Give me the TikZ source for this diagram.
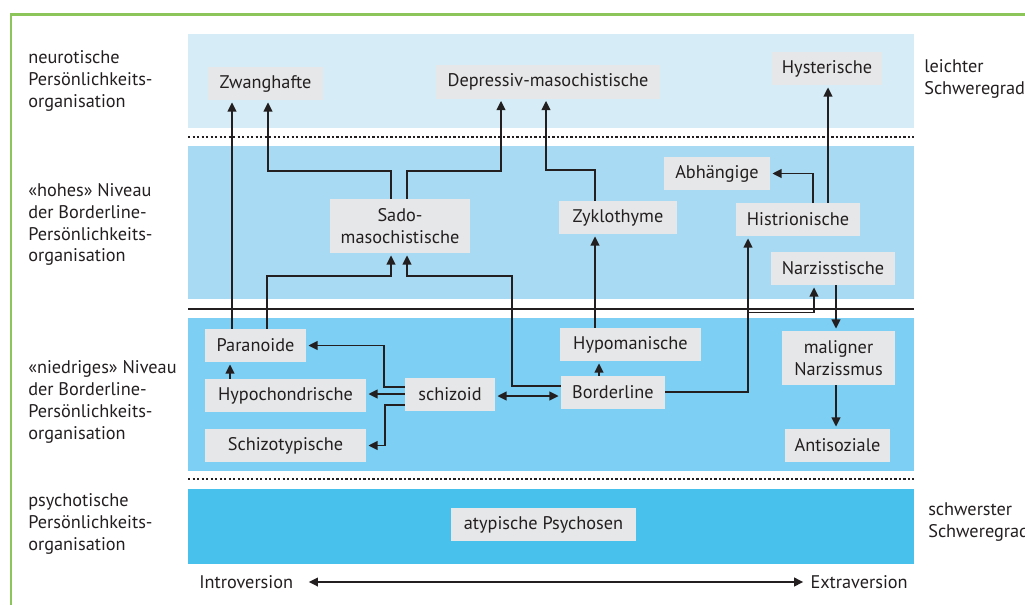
\documentclass[tikz,border=0pt]{standalone}
\usepackage{fontspec}
\setmainfont{PT Sans}
\usetikzlibrary{arrows.meta}

\definecolor{ink}{RGB}{35,31,32}
\definecolor{framegreen}{RGB}{140,198,90}
\definecolor{boxgray}{RGB}{230,231,232}
\definecolor{bandA}{RGB}{214,237,248}
\definecolor{bandB}{RGB}{168,219,243}
\definecolor{bandC}{RGB}{125,207,243}
\definecolor{bandD}{RGB}{72,194,236}

\begin{document}
\begin{tikzpicture}[
        x=0.025cm, y=-0.025cm,
        font=\fontsize{13}{15.6}\selectfont,
        text=ink,
        box/.style={fill=boxgray, minimum height=0.825cm, inner sep=2pt, align=center},
        tallbox/.style={box, minimum height=1.35cm},
        side/.style={anchor=west, align=left, inner sep=0pt},
        arrow/.style={-{Triangle[length=6.5pt, width=6.2pt]}, line width=1.3pt, draw=ink, shorten >=1.5pt},
        dual_arrow/.style={arrow, {Triangle[length=6.5pt, width=6.2pt]}-{Triangle[length=6.5pt, width=6.2pt]}, shorten <=1.5pt},
        dotted_line/.style={draw=ink, line width=1.7pt, dash pattern=on 1.5pt off 1.7pt}
    ]
    \useasboundingbox (0,0) rectangle (1025,605);

    % Frame and bands
    \draw[framegreen, line width=1.8pt] (11,605) -- (11,14.5) -- (1025,14.5);
    \fill[bandA] (188,34) rectangle (914,128);
    \fill[bandB] (188,146) rectangle (914,299);
    \fill[bandC] (188,318) rectangle (914,471);
    \fill[bandD] (188,489) rectangle (914,564);
    \draw[dotted_line] (188,137) -- (914,137);
    \draw[ink, line width=1.3pt] (188,309) -- (914,309);
    \draw[dotted_line] (188,479) -- (914,479);

    % Level labels
    \node[side] (neur) at (28,81) {neurotische\\Persönlichkeits-\\organisation};
    \node[side] (hoch) at (28,224.5) {«hohes» Niveau\\der Borderline-\\Persönlichkeits-\\organisation};
    \node[side] (nied) at (28,402) {«niedriges» Niveau\\der Borderline-\\Persönlichkeits-\\organisation};
    \node[side] (psych) at (28,524) {psychotische\\Persönlichkeits-\\organisation};
    \node[side] (leicht) at (924,79) {leichter\\Schweregrad};
    \node[side] (schwer) at (928,522) {schwerster\\Schweregrad};

    % Define the blocks
    \node[box, minimum width=2.875cm] (zwang) at (265.5,83.5) {Zwanghafte};
    \node[box, minimum width=5.6cm] (depr) at (548,82) {Depressiv-masochistische};
    \node[box, minimum width=2.75cm] (hyst) at (827,68.5) {Hysterische};
    \node[tallbox, minimum width=3.5cm] (sado) at (400,226) {Sado-\\masochistische};
    \node[box, minimum width=2.95cm] (zyklo) at (618,217.5) {Zyklothyme};
    \node[box, minimum width=2.65cm] (abh) at (717,173.5) {Abhängige};
    \node[box, minimum width=3.1cm] (histr) at (798,219.5) {Histrionische};
    \node[box, minimum width=3.1cm] (narz) at (833,268.5) {Narzisstische};
    \node[box, minimum width=2.525cm] (para) at (255.5,345.5) {Paranoide};
    \node[box, minimum width=4.025cm] (hypoch) at (285.5,395.5) {Hypochondrische};
    \node[box, minimum width=4.025cm] (schizot) at (285.5,445.5) {Schizotypische};
    \node[box, minimum width=2.25cm] (schizoid) at (450,394.5) {schizoid};
    \node[box, minimum width=3.525cm] (hypoman) at (630.5,344.5) {Hypomanische};
    \node[box, minimum width=2.6cm] (border) at (613,392.5) {Borderline};
    \node[tallbox, minimum width=2.825cm] (malign) at (838.5,358) {maligner\\Narzissmus};
    \node[box, minimum width=2.625cm] (antis) at (837.5,445.5) {Antisoziale};
    \node[box, minimum width=4.625cm] (atyp) at (543.5,524.5) {atypische Psychosen};

    % Axis
    \node[anchor=west, inner sep=0pt] (intro) at (199,582) {Introversion};
    \node[anchor=east, inner sep=0pt] (extra) at (908,582) {Extraversion};

    % Draw the connecting arrows
    \draw[arrow] (232,0 |- para.north) -- (232,0 |- zwang.south);
    \draw[arrow] (391,0 |- sado.north) -- (391,171) -| (268,0 |- zwang.south);
    \draw[arrow] (407,0 |- sado.north) -- (407,171) -| (501,0 |- depr.south);
    \draw[arrow] (595,0 |- zyklo.north) -- (595,170) -| (546,0 |- depr.south);
    \draw[arrow] (267,0 |- para.north) -- (267,276) -| (391,0 |- sado.south);
    \draw[arrow] (border.west |- 0,386) -- (512,386) -- (512,276) -| (407,0 |- sado.south);
    \draw[arrow] (230,0 |- hypoch.north) -- (230,0 |- para.south);
    \draw[arrow] (schizoid.west |- 0,387) -- (384,387) |- (para.east);
    \draw[arrow] (schizoid.west |- 0,394) -- (hypoch.east |- 0,394);
    \draw[arrow] (schizoid.west |- 0,405) -- (385,405) |- (schizot.east);
    \draw[dual_arrow] (schizoid.east |- 0,396) -- (border.west |- 0,396);
    \draw[arrow] (599,0 |- border.north) -- (599,0 |- hypoman.south);
    \draw[arrow] (595,0 |- hypoman.north) -- (595,0 |- zyklo.south);
    \draw[arrow] (border.east |- 0,392) -| (748,0 |- histr.south);
    \draw[arrow] (border.east |- 0,392) -- (748,392) -- (748,312.5) -| (814,0 |- narz.south);
    \draw[arrow] (836,0 |- narz.south) -- (836,0 |- malign.north);
    \draw[arrow] (836,0 |- malign.south) -- (836,0 |- antis.north);
    \draw[arrow] (828,0 |- histr.north) -- (828,0 |- hyst.south);
    \draw[arrow] (813,0 |- histr.north) |- (abh.east);
    \draw[dual_arrow, shorten <=11pt, shorten >=5pt] (intro.east) -- (extra.west);

\end{tikzpicture}
\end{document}
